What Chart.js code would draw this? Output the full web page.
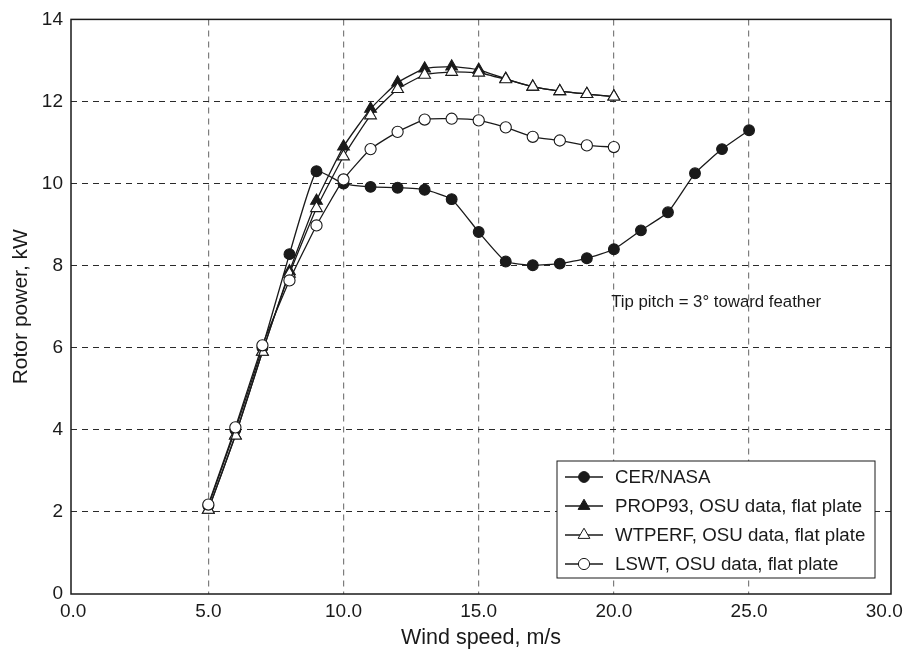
<!DOCTYPE html>
<html>
<head>
<meta charset="utf-8">
<title>Rotor power vs wind speed</title>
<script src="https://cdn.jsdelivr.net/npm/chart.js@4.4.1/dist/chart.umd.min.js"></script>
<style>
    html, body { margin: 0; padding: 0; background: #fff; }
    #wrap { position: relative; width: 913px; height: 652px; }
</style>
</head>
<body>
<div id="wrap"><canvas id="powerChart"></canvas></div>
<script>
// Velocidades de vento (m/s)
const windCer = [5, 6, 7, 8, 9, 10, 11, 12, 13, 14, 15, 16, 17, 18, 19, 20, 21, 22, 23, 24, 25];
const windOsu = [5, 6, 7, 8, 9, 10, 11, 12, 13, 14, 15, 16, 17, 18, 19, 20];

// Potência do rotor (kW)
const cerNasa = [2.15, 4.0, 6.0, 8.28, 10.3, 10.0, 9.92, 9.9, 9.85, 9.62, 8.82, 8.1, 8.01, 8.05, 8.18, 8.4, 8.86, 9.3, 10.25, 10.84, 11.3];
const prop93 = [2.05, 3.86, 5.9, 7.86, 9.58, 10.9, 11.82, 12.46, 12.8, 12.85, 12.77, 12.55, 12.36, 12.25, 12.18, 12.12];
const wtperf = [2.05, 3.86, 5.9, 7.8, 9.4, 10.66, 11.66, 12.3, 12.65, 12.72, 12.7, 12.54, 12.36, 12.25, 12.18, 12.12];
const lswt = [2.18, 4.06, 6.06, 7.64, 8.98, 10.1, 10.84, 11.26, 11.56, 11.58, 11.54, 11.37, 11.14, 11.05, 10.93, 10.89];

// Rótulos e marcas dos eixos
const seriesNames = ['CER/NASA', 'PROP93, OSU data, flat plate', 'WTPERF, OSU data, flat plate', 'LSWT, OSU data, flat plate'];
const xTicks = [0, 5, 10, 15, 20, 25, 30];
const yTicks = [0, 2, 4, 6, 8, 10, 12, 14];
const xTitle = 'Wind speed, m/s';
const yTitle = 'Rotor power, kW';
const noteText = 'Tip pitch = 3\u00B0 toward feather';

const FONT = "'Liberation Sans', Arial, Helvetica, sans-serif";
const INK = '#1a1a1a';

const RotorChart = {
    /**
     * Monta os pares {x, y} a partir das listas
     */
    toPoints: function(xs, ys) {
        return ys.map((y, i) => ({ x: xs[i], y: y }));
    },

    /**
     * Desenha um marcador (círculo ou triângulo) para a legenda
     */
    drawMarker: function(ctx, style, x, y, r, fill) {
        ctx.beginPath();
        if (style === 'triangle') {
            let rad = 0;
            for (let k = 0; k < 3; k++) {
                const px = x + Math.sin(rad) * r;
                const py = y - Math.cos(rad) * r;
                if (k === 0) ctx.moveTo(px, py); else ctx.lineTo(px, py);
                rad += 2 * Math.PI / 3;
            }
            ctx.closePath();
        } else {
            ctx.arc(x, y, r, 0, Math.PI * 2);
        }
        ctx.fillStyle = fill;
        ctx.fill();
        ctx.lineWidth = 1;
        ctx.strokeStyle = INK;
        ctx.stroke();
    },

    /**
     * Plugin: moldura, nota e legenda dentro da área do gráfico
     */
    overlayPlugin: function() {
        const self = this;
        return {
            id: 'overlay',
            afterDraw: function(chart) {
                const ctx = chart.ctx;
                const area = chart.chartArea;
                const xs = chart.scales.x;
                const ys = chart.scales.y;

                ctx.save();

                // Moldura completa
                ctx.lineWidth = 1.5;
                ctx.strokeStyle = INK;
                ctx.strokeRect(area.left, area.top, area.right - area.left, area.bottom - area.top);

                // Nota sobre o passo da ponta
                ctx.font = '16.8px ' + FONT;
                ctx.fillStyle = INK;
                ctx.textAlign = 'left';
                ctx.textBaseline = 'middle';
                ctx.fillText(noteText, xs.getPixelForValue(19.9), ys.getPixelForValue(7.1));

                // Caixa da legenda
                const bx = area.right - 334;
                const by = area.bottom - 133;
                ctx.fillStyle = '#fff';
                ctx.fillRect(bx, by, 318, 117);
                ctx.lineWidth = 1;
                ctx.strokeStyle = INK;
                ctx.strokeRect(bx, by, 318, 117);

                ctx.font = '18.7px ' + FONT;
                chart.data.datasets.forEach((ds, i) => {
                    const y = by + 16 + i * 29;
                    ctx.beginPath();
                    ctx.moveTo(bx + 8, y);
                    ctx.lineTo(bx + 46, y);
                    ctx.lineWidth = 1.3;
                    ctx.strokeStyle = INK;
                    ctx.stroke();
                    self.drawMarker(ctx, ds.pointStyle, bx + 27, y, ds.pointRadius, ds.pointBackgroundColor);
                    ctx.fillStyle = INK;
                    ctx.fillText(ds.label, bx + 58, y + 1);
                });

                ctx.restore();
            }
        };
    },

    /**
     * Cria o gráfico
     */
    init: function() {
        const canvas = document.getElementById('powerChart');

        const series = [
            { label: seriesNames[0], data: this.toPoints(windCer, cerNasa), pointStyle: 'circle', pointRadius: 5.4, pointBackgroundColor: INK, order: 3 },
            { label: seriesNames[1], data: this.toPoints(windOsu, prop93), pointStyle: 'triangle', pointRadius: 6.8, pointBackgroundColor: INK, order: 2 },
            { label: seriesNames[2], data: this.toPoints(windOsu, wtperf), pointStyle: 'triangle', pointRadius: 6.8, pointBackgroundColor: '#fff', order: 1 },
            { label: seriesNames[3], data: this.toPoints(windOsu, lswt), pointStyle: 'circle', pointRadius: 5.6, pointBackgroundColor: '#fff', order: 0 }
        ];

        series.forEach(s => {
            s.borderColor = INK;
            s.borderWidth = 1.3;
            s.pointBorderColor = INK;
            s.pointBorderWidth = 1.1;
            s.tension = 0.15;
            s.fill = false;
        });

        const config = {
            type: 'line',
            data: { datasets: series },
            options: {
                responsive: true,
                maintainAspectRatio: false,
                animation: false,
                layout: { padding: { top: 10, right: 22, left: 0, bottom: 0 } },
                plugins: {
                    legend: { display: false },
                    tooltip: { enabled: false }
                },
                scales: {
                    x: {
                        type: 'linear',
                        min: -0.08,
                        max: 30.25,
                        afterBuildTicks: function(axis) {
                            axis.ticks = xTicks.map(v => ({ value: v }));
                        },
                        afterFit: function(scale) { scale.height = 58; },
                        ticks: {
                            autoSkip: false,
                            maxRotation: 0,
                            padding: 6,
                            color: INK,
                            font: { size: 19, family: FONT },
                            callback: v => Number(v).toFixed(1)
                        },
                        grid: {
                            drawTicks: false,
                            lineWidth: 1.2,
                            color: c => (c.tick && (c.tick.value === 0 || c.tick.value === 30)) ? 'rgba(0,0,0,0)' : '#7d7d7d'
                        },
                        border: { display: false, dash: [6, 5] },
                        title: {
                            display: true,
                            text: xTitle,
                            color: INK,
                            font: { size: 21.5, family: FONT },
                            padding: { top: 0, bottom: 1 }
                        }
                    },
                    y: {
                        min: 0,
                        max: 14,
                        afterBuildTicks: function(axis) {
                            axis.ticks = yTicks.map(v => ({ value: v }));
                        },
                        afterFit: function(scale) { scale.width = 71; },
                        ticks: {
                            padding: 8,
                            color: INK,
                            font: { size: 19, family: FONT }
                        },
                        grid: {
                            drawTicks: false,
                            lineWidth: 1,
                            color: c => (c.tick && (c.tick.value === 0 || c.tick.value === 14)) ? 'rgba(0,0,0,0)' : '#2a2a2a'
                        },
                        border: { display: false, dash: [6, 5] },
                        title: {
                            display: true,
                            text: yTitle,
                            color: INK,
                            font: { size: 21, family: FONT },
                            padding: { top: 9, bottom: 0 }
                        }
                    }
                }
            },
            plugins: [this.overlayPlugin()]
        };

        this.chart = new Chart(canvas, config);
    }
};

document.addEventListener('DOMContentLoaded', function() {
    RotorChart.init();
});
</script>
</body>
</html>
